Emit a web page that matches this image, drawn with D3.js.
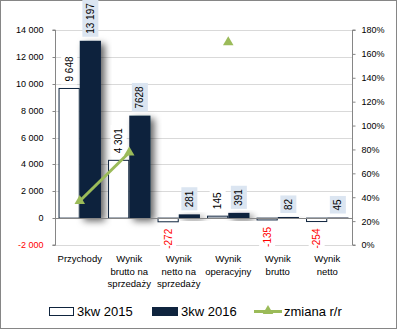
<!DOCTYPE html>
<html><head><meta charset="utf-8">
<script src="https://cdn.jsdelivr.net/npm/d3@7"></script>
<style>
html,body{margin:0;padding:0;background:#fff;}
svg{display:block;}
text{font-family:"Liberation Sans",Arial,sans-serif;}
</style></head>
<body>
<svg id="c" width="398" height="330"></svg>
<script>
const categories = [["Przychody"], ["Wynik","brutto na","sprzedaży"], ["Wynik","netto na","sprzedaży"], ["Wynik","operacyjny"], ["Wynik","brutto"], ["Wynik","netto"]];
const series2015 = [9648, 4301, -272, 145, -135, -254];
const series2016 = [13197, 7628, 281, 391, 82, 45];
const labels2015 = ["9 648", "4 301", "-272", "145", "-135", "-254"];
const labels2016 = ["13 197", "7628", "281", "391", "82", "45"];
const changeRR = [36.8, 77.4, null, 169.7, null, null];
const leftTicks = [-2000, 0, 2000, 4000, 6000, 8000, 10000, 12000, 14000];
const rightTicks = [0, 20, 40, 60, 80, 100, 120, 140, 160, 180];
const seriesNames = ["3kw 2015", "3kw 2016", "zmiana r/r"];

const dark = "#0f243e", green = "#9bbb59", grid = "#d9d9d9", axisC = "#868686";
const svg = d3.select("#c");
const L = 55, R = 352, T = 30, B = 245;

const defs = svg.append("defs");
const f = defs.append("filter").attr("id","sh").attr("x","-50%").attr("y","-50%").attr("width","200%").attr("height","200%");
f.append("feDropShadow").attr("dx",4).attr("dy",3).attr("stdDeviation",3.5).attr("flood-color","#000").attr("flood-opacity",0.6);

svg.append("rect").attr("x",0.5).attr("y",0.5).attr("width",396).attr("height",328)
  .attr("fill","#fff").attr("stroke",axisC);

const x = d3.scaleBand().domain(d3.range(categories.length)).range([L,R]).paddingInner(0.143).paddingOuter(0.0715);
const x1 = d3.scaleBand().domain([0,1]).range([0,x.bandwidth()]);
const y = d3.scaleLinear().domain([-2000,14000]).range([B,T]);
const y2 = d3.scaleLinear().domain([0,180]).range([B,T]);
const fmt = v => { const s = d3.format(",")(Math.abs(v)).replace(/,/g," "); return (v<0?"-":"")+s; };

// gridlines
svg.append("g").selectAll("line").data(leftTicks.filter(t=>t!==0)).join("line")
  .attr("x1",L).attr("x2",R).attr("y1",d=>Math.round(y(d))+0.5).attr("y2",d=>Math.round(y(d))+0.5)
  .attr("stroke",grid).attr("stroke-width",1);

// left axis
const la = svg.append("g").attr("transform",`translate(${L+0.5},0)`)
  .call(d3.axisLeft(y).tickValues(leftTicks).tickSize(3).tickPadding(9).tickFormat(fmt));
la.select(".domain").attr("stroke",axisC).attr("d",`M-3,${T}H0V${B}H-3`);
la.selectAll(".tick line").attr("stroke",axisC);
la.selectAll(".tick text").attr("font-size","9px").attr("font-family","Liberation Sans, Arial, sans-serif")
  .attr("fill",d=>d<0?"#ff0000":"#000");
la.selectAll(".tick").attr("transform",d=>`translate(0,${Math.round(y(d))+0.5})`);

// right axis
const ra = svg.append("g").attr("transform",`translate(${R+0.5},0)`)
  .call(d3.axisRight(y2).tickValues(rightTicks).tickSize(3).tickPadding(6).tickFormat(d=>d+"%"));
ra.select(".domain").attr("stroke",axisC).attr("d",`M3,${T}H0V${B}H3`);
ra.selectAll(".tick line").attr("stroke",axisC);
ra.selectAll(".tick text").attr("font-size","9px").attr("font-family","Liberation Sans, Arial, sans-serif").attr("fill","#000");

// bars
const gb = svg.append("g");
gb.selectAll("rect.b16").data(series2016).join("rect").attr("class","b16")
  .attr("x",(d,i)=>x(i)+x1(1)).attr("width",x1.bandwidth())
  .attr("y",d=>y(Math.max(0,d))).attr("height",d=>Math.abs(y(d)-y(0)))
  .attr("fill",dark).attr("filter","url(#sh)");
gb.selectAll("rect.b15").data(series2015).join("rect").attr("class","b15")
  .attr("x",(d,i)=>x(i)+x1(0)+0.5).attr("width",x1.bandwidth()-1)
  .attr("y",d=>y(Math.max(0,d))).attr("height",d=>Math.max(0.5,Math.abs(y(d)-y(0))))
  .attr("fill","#fff").attr("stroke",dark).attr("stroke-width",1);

// zero line
svg.append("line").attr("x1",L).attr("x2",R).attr("y1",Math.round(y(0))+0.5).attr("y2",Math.round(y(0))+0.5)
  .attr("stroke",axisC);

// data labels
function label(vals, texts, si, bg){
  vals.forEach((v,i)=>{
    const cx = x(i)+x1(si)+x1.bandwidth()/2;
    const neg = v<0;
    const yy = neg ? y(v)+7 : y(v)-7;
    const g = svg.append("g").attr("transform",`translate(${cx},${yy}) rotate(-90)`);
    const r = g.append("rect");
    const t = g.append("text").attr("x",0).attr("y",0).attr("dy","0.35em")
      .attr("text-anchor",neg?"end":"start").attr("font-size","10px")
      .attr("fill",neg?"#ff0000":"#000").text(texts[i]);
    const bb = t.node().getBBox();
    r.attr("x",bb.x-3).attr("y",bb.y-2.5).attr("width",bb.width+6).attr("height",bb.height+5).attr("fill",bg);
  });
}
label(series2015,labels2015,0,"#fff");
label(series2016,labels2016,1,"#dbe5f1");

// category labels
const cl = svg.append("g");
categories.forEach((lines,i)=>{
  const t = cl.append("text").attr("x",x(i)+x.bandwidth()/2).attr("y",262).attr("text-anchor","middle")
    .attr("font-size","9.5px").attr("fill","#000");
  lines.forEach((ln,j)=>t.append("tspan").attr("x",x(i)+x.bandwidth()/2).attr("dy",j?12.5:0).text(ln));
});

// change line
const cx0 = i => x(i)+x.bandwidth()/2;
const line = d3.line().defined(d=>d!=null).x((d,i)=>cx0(i)).y(d=>y2(d));
svg.append("path").datum(changeRR).attr("d",line).attr("fill","none").attr("stroke",green).attr("stroke-width",3);
const tri = d3.symbol().type(d3.symbolTriangle).size(48);
svg.append("g").selectAll("path").data(changeRR.map((d,i)=>({d,i})).filter(o=>o.d!=null)).join("path")
  .attr("d",tri).attr("transform",o=>`translate(${cx0(o.i)},${y2(o.d)})`).attr("fill",green);

// legend
const lg = svg.append("g");
lg.append("rect").attr("x",49.5).attr("y",307.5).attr("width",24).attr("height",8).attr("fill","#fff").attr("stroke",dark);
lg.append("text").attr("x",77).attr("y",316).attr("font-size","13px").text(seriesNames[0]);
lg.append("rect").attr("x",152).attr("y",307).attr("width",26).attr("height",9).attr("fill",dark);
lg.append("text").attr("x",181).attr("y",316).attr("font-size","13px").text(seriesNames[1]);
lg.append("line").attr("x1",254).attr("x2",282).attr("y1",311.5).attr("y2",311.5).attr("stroke",green).attr("stroke-width",3);
lg.append("path").attr("d",tri).attr("transform","translate(268,311)").attr("fill",green);
lg.append("text").attr("x",284).attr("y",316).attr("font-size","13px").text(seriesNames[2]);
</script>
</body></html>
